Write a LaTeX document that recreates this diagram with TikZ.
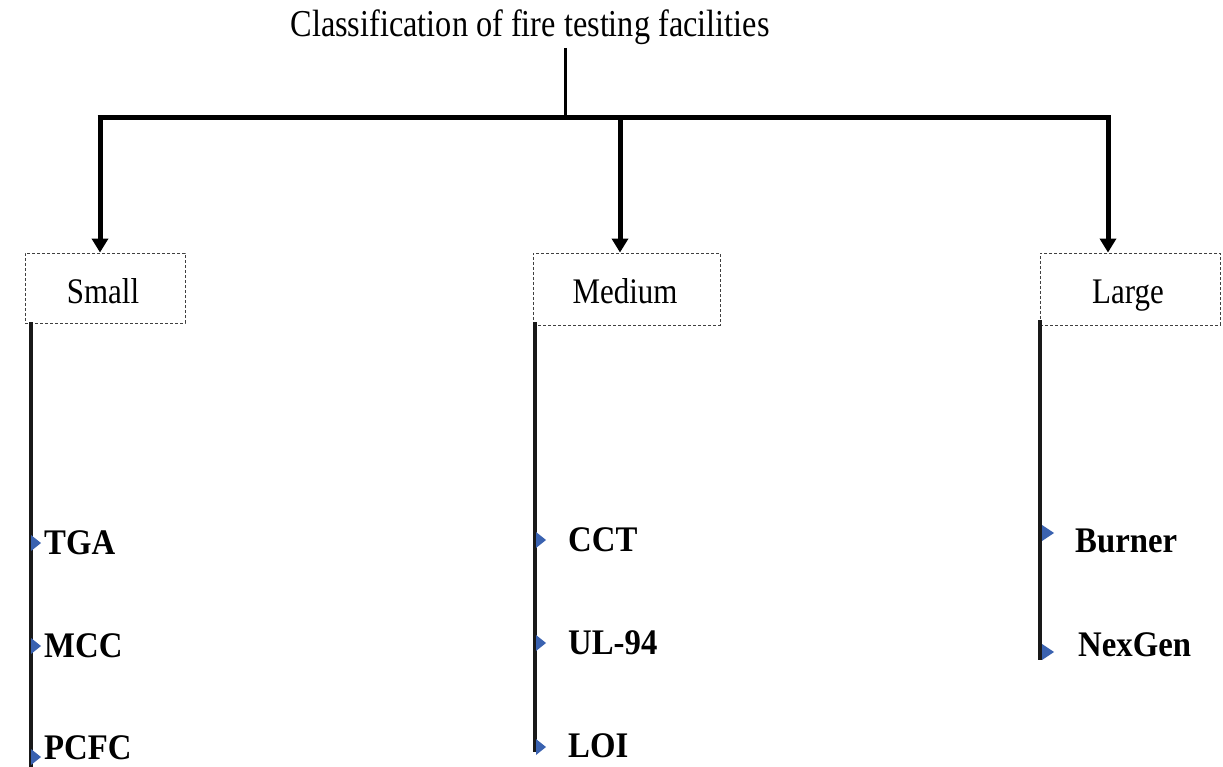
\documentclass[tikz,border=0pt]{standalone}
\usepackage{fontspec}
\setmainfont{Liberation Serif}
\usetikzlibrary{arrows.meta,calc}
\definecolor{bulletblue}{HTML}{3A62B0}
\tikzset{
  catbox/.style={draw=black!75, densely dashed, line width=0.9pt, inner sep=0pt},
  catlabel/.style={anchor=base, inner sep=0pt, font=\fontsize{36}{36}\selectfont},
  mainarrow/.style={line width=5pt, -{Triangle[width=16pt,length=14pt]}},
  trunk/.style={line width=4.5pt, black!90},
  item/.style={anchor=west, inner sep=0pt, font=\fontsize{36}{36}\selectfont\bfseries},
  bul/.style={fill=bulletblue}
}
\newcommand{\cx}[1]{\scalebox{0.86}[1]{#1}}
\newcommand{\ix}[1]{\scalebox{0.91}[1]{#1}}
\begin{document}
\begin{tikzpicture}[x=1pt,y=-1pt]
\useasboundingbox (0,0) rectangle (1223,767);
\node[inner sep=0pt, font=\fontsize{38}{38}\selectfont] (title) at (530,27) {\scalebox{0.85}[1]{Classification of fire testing facilities}};
\coordinate (top) at (565,48);
\coordinate (j) at (565,118);
\coordinate (jl) at (100,118);
\coordinate (jm) at (620,118);
\coordinate (jr) at (1108,118);
\draw[line width=3pt] (top) -- (j);
\draw[line width=5pt] ($(jl)+(-2.5,0)$) -- ($(jr)+(2.5,0)$);
\node[catbox, minimum width=160pt, minimum height=70pt] (small) at (105,288) {};
\node[catbox, minimum width=187pt, minimum height=72pt] (medium) at (626.5,289) {};
\node[catbox, minimum width=180pt, minimum height=72pt] (large) at (1130,289) {};
\node[catlabel] (smallt) at (103,304) {\cx{Small}};
\node[catlabel] (mediumt) at (625,304) {\cx{Medium}};
\node[catlabel] (larget) at (1128,304) {\cx{Large}};
\draw[mainarrow] ($(jl)+(0,-2.5)$) -- (jl |- small.north);
\draw[mainarrow] (jm) -- (jm |- medium.north);
\draw[mainarrow] ($(jr)+(0,-2.5)$) -- (jr |- large.north);
% trunks
\coordinate (sb) at (31,767);
\coordinate (mb) at (535,752);
\coordinate (lb) at (1040,660);
\draw[trunk] (31,322) -- (sb);
\draw[trunk] (535,322) -- (mb);
\draw[trunk] (1040,320) -- (lb);
% items
\node[item] (tga) at (44,543) {\ix{TGA}};
\node[item] (mcc) at (44,646) {\ix{MCC}};
\node[item] (pcfc) at (44,748) {\ix{PCFC}};
\node[item] (cct) at (568,540) {\ix{CCT}};
\node[item] (ul) at (568,643) {\ix{UL-94}};
\node[item] (loi) at (568,746) {\ix{LOI}};
\node[item] (burner) at (1075,541) {\ix{Burner}};
\node[item] (nexgen) at (1078,645) {\ix{NexGen}};
\fill[bul] (31,535) -- (41,543) -- (31,551) -- cycle;
\fill[bul] (31,638) -- (41,646) -- (31,654) -- cycle;
\fill[bul] (31,749) -- (41,757) -- (31,765) -- cycle;
\fill[bul] (536,532) -- (546,540) -- (536,548) -- cycle;
\fill[bul] (536,635) -- (546,643) -- (536,651) -- cycle;
\fill[bul] (536,739) -- (546,747) -- (536,755) -- cycle;
\fill[bul] (1042,525) -- (1054,533) -- (1042,541) -- cycle;
\fill[bul] (1042,644) -- (1054,652) -- (1042,660) -- cycle;
\end{tikzpicture}
\end{document}
